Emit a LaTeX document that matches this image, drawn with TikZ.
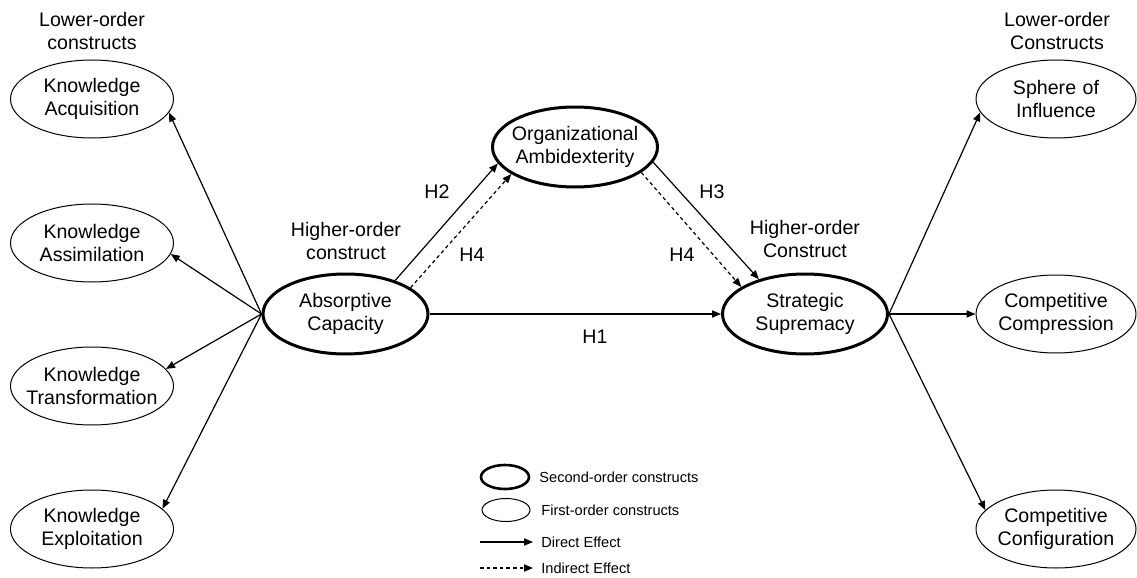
\documentclass[tikz,border=0pt]{standalone}
\usepackage{fontspec}
\setmainfont{Liberation Sans}
\usetikzlibrary{shapes.geometric,arrows.meta}
\begin{document}
\begin{tikzpicture}[x=0.5pt,y=-0.5pt,
  base/.style={font=\fontsize{9.8}{11.2}\selectfont},
  small/.style={font=\fontsize{7.3}{8.5}\selectfont},
  firstord/.style={base, ellipse, draw, line width=0.5pt, minimum width=81.5pt, minimum height=39pt, inner sep=-20pt, text width=80pt, align=center},
  secondord/.style={base, ellipse, draw, line width=1.5pt, minimum width=82.5pt, minimum height=40pt, inner sep=-20pt, text width=80pt, align=center},
  lbl/.style={base, align=center, inner sep=0pt},
  hyp/.style={base, inner sep=0pt},
  arr/.style={line width=0.6pt, -{Triangle[length=4.5pt,width=3.6pt]}},
  indarr/.style={arr, dash pattern=on 1.8pt off 1.5pt},
  legtext/.style={small, anchor=west, inner sep=0pt}]
\useasboundingbox (0,0) rectangle (1137,578);

% left lower-order constructs
\node[lbl] (lolabel) at (92,31) {Lower-order\\constructs};
\node[firstord] (acq) at (92,99) {Knowledge\\Acquisition};
\node[firstord] (assim) at (92,243) {Knowledge\\Assimilation};
\node[firstord] (transf) at (92,386) {Knowledge\\Transformation};
\node[firstord] (exploit) at (92,529) {Knowledge\\Exploitation};

% higher-order constructs
\node[lbl] (holabel) at (346,241) {Higher-order\\construct};
\node[secondord] (ac) at (345.5,314) {Absorptive\\Capacity};
\node[secondord] (oa) at (575,147) {Organizational\\Ambidexterity};
\node[lbl] (holabel2) at (805,239) {Higher-order\\Construct};
\node[secondord] (ss) at (805,314) {Strategic\\Supremacy};

% right lower-order constructs
\node[lbl] (lolabel2) at (1057,31) {Lower-order\\Constructs};
\node[firstord, minimum width=80pt] (sphere) at (1056,99) {Sphere of\\Influence};
\node[firstord, minimum width=80pt] (compr) at (1056,314) {Competitive\\Compression};
\node[firstord, minimum width=80pt] (config) at (1056,529) {Competitive\\Configuration};

% measurement arrows
\draw[arr] (ac.west) -- (acq.-10);
\draw[arr] (ac.west) -- (assim.-8);
\draw[arr] (ac.west) -- (transf.13);
\draw[arr] (ac.west) -- (exploit.16);
\draw[arr] (ss.east) -- (sphere.190);
\draw[arr] (ss.east) -- (compr.west);
\draw[arr] (ss.east) -- (config.165);

% structural arrows
\draw[arr] (ac.east) -- (ss.west);
\draw[arr] (ac.34) -- (oa.192);
\draw[indarr] (ac.22) -- (oa.203);
\draw[arr] (oa.-11) -- (ss.143);
\draw[indarr] (oa.-21) -- (ss.157);

% hypothesis labels
\node[hyp] (h1) at (595,337) {H1};
\node[hyp] (h2) at (437,192) {H2};
\node[hyp] (h4a) at (472,255) {H4};
\node[hyp] (h3) at (712,192) {H3};
\node[hyp] (h4b) at (682,255) {H4};

% legend
\node[ellipse, draw, line width=1.3pt, minimum width=24pt, minimum height=12pt, inner sep=0pt] (leg2) at (505,477) {};
\node[legtext] (leg2t) at (539,477) {Second-order constructs};
\node[ellipse, draw, line width=0.5pt, minimum width=24pt, minimum height=11.5pt, inner sep=0pt] (leg1) at (506,510) {};
\node[legtext] (leg1t) at (541,510) {First-order constructs};
\coordinate (d0) at (480,542);
\coordinate (d1) at (533,542);
\draw[arr] (d0) -- (d1);
\node[legtext] (legdt) at (541,542) {Direct Effect};
\coordinate (i0) at (480,568);
\coordinate (i1) at (533,568);
\draw[indarr] (i0) -- (i1);
\node[legtext] (legit) at (541,568) {Indirect Effect};
\end{tikzpicture}
\end{document}
